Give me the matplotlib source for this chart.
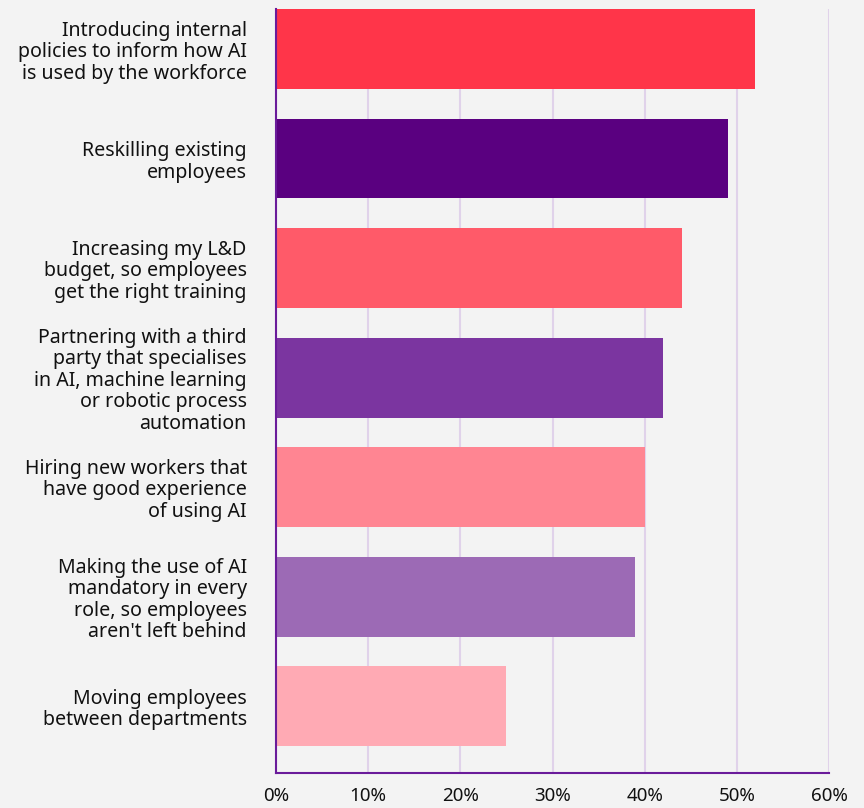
import matplotlib
matplotlib.use("Agg")
import matplotlib.pyplot as plt

categories = [
    "Introducing internal\npolicies to inform how AI\nis used by the workforce",
    "Reskilling existing\nemployees",
    "Increasing my L&D\nbudget, so employees\nget the right training",
    "Partnering with a third\nparty that specialises\nin AI, machine learning\nor robotic process\nautomation",
    "Hiring new workers that\nhave good experience\nof using AI",
    "Making the use of AI\nmandatory in every\nrole, so employees\naren't left behind",
    "Moving employees\nbetween departments",
]
values = [52, 49, 44, 42, 40, 39, 25]
colors = ["#FF3549", "#5A0080", "#FF5A69", "#7B35A0", "#FF8592", "#9C6AB5", "#FFAAB4"]
xticks = [0, 10, 20, 30, 40, 50, 60]
xticklabels = ["0%", "10%", "20%", "30%", "40%", "50%", "60%"]

plt.rcParams['font.family'] = ['Noto Sans', 'DejaVu Sans']

W, H = 864, 808
fig = plt.figure(figsize=(W/100, H/100), dpi=100, facecolor="#F3F3F3")
ax = fig.add_axes([276/W, 1 - 773/H, (829-276)/W, (773-9)/H])
ax.set_facecolor("#F3F3F3")

ypos = list(range(len(values)))
ax.barh(ypos, values, height=0.73, color=colors, zorder=3)
ax.set_xlim(0, 60)
ax.set_ylim(6.61, -0.365)
ax.set_xticks(xticks)
ax.set_xticklabels(xticklabels, fontsize=13.5, color="#111111")
ax.set_yticks(ypos)
ax.set_yticklabels(categories, fontsize=14.1, color="#111111", linespacing=1.1)
ax.tick_params(axis='y', length=0, pad=21)
ax.tick_params(axis='x', length=0, pad=10)
ax.grid(axis='x', color="#E0D2EA", linewidth=1.5, zorder=0)
for s in ['top', 'right']:
    ax.spines[s].set_visible(False)
for s in ['left', 'bottom']:
    ax.spines[s].set_color("#6A1B9A")
    ax.spines[s].set_linewidth(1.5)
    ax.spines[s].set_zorder(4)

fig.savefig("out.png", dpi=100, facecolor="#F3F3F3")
